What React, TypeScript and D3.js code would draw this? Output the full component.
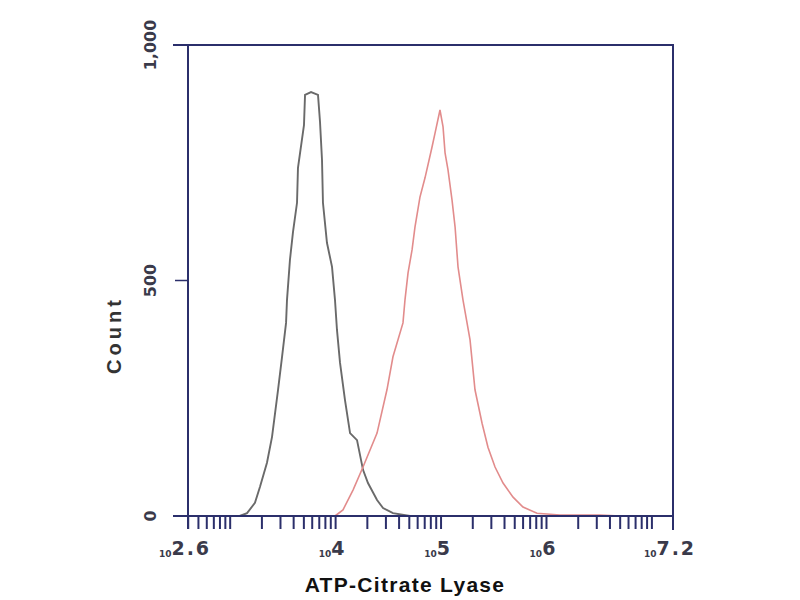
import React from "react";
import * as d3 from "d3";

// Log10 fluorescence channel (x) and event count (y) for each histogram
const isotypeLog = [3.09, 3.16, 3.235, 3.283, 3.349, 3.397, 3.454, 3.492, 3.53, 3.539, 3.567, 3.596, 3.634, 3.643, 3.7, 3.71, 3.767, 3.833, 3.852, 3.871, 3.88, 3.918, 3.966, 3.994, 4.013, 4.042, 4.089, 4.137, 4.203, 4.26, 4.307, 4.393, 4.45, 4.544, 4.706];
const isotypeCount = [0, 6, 28, 62, 113, 168, 268, 338, 410, 459, 544, 603, 665, 739, 830, 894, 900, 894, 837, 756, 665, 580, 529, 459, 395, 325, 246, 176, 161, 98, 70, 34, 17, 6, 0];

const aclyLog = [3.994, 4.07, 4.165, 4.26, 4.393, 4.487, 4.544, 4.639, 4.658, 4.687, 4.725, 4.753, 4.8, 4.848, 4.914, 4.943, 4.99, 5.019, 5.038, 5.066, 5.104, 5.133, 5.161, 5.208, 5.275, 5.322, 5.389, 5.445, 5.512, 5.588, 5.683, 5.777, 5.91, 6.128, 6.508, 6.7];
const aclyCount = [0, 13, 55, 104, 176, 268, 338, 410, 459, 516, 565, 614, 677, 718, 783, 813, 862, 826, 771, 735, 671, 614, 529, 459, 374, 268, 197, 146, 104, 70, 40, 19, 6, 2, 2, 0];

const yTicks = [0, 500, 1000];
const yTickLabels = ["0", "500", "1,000"];
const xLabelExps = [2.6, 4, 5, 6, 7.2];
const xLabelTexts = ["2.6", "4", "5", "6", "7.2"];
const xDomainExp = [2.6, 7.2];
const xTitle = "ATP-Citrate Lyase";
const yTitle = "Count";

const AXIS = "#2b2f6b";

export default function App() {
  const left = 188, right = 673, top = 45, bottom = 516;
  const x = d3.scaleLog().domain([10 ** xDomainExp[0], 10 ** xDomainExp[1]]).range([left, right]);
  const y = d3.scaleLinear().domain([0, 1000]).range([bottom, top]);

  const line = d3
    .line<[number, number]>()
    .x((d) => x(10 ** d[0]))
    .y((d) => y(d[1]))
    .curve(d3.curveLinear);

  const iso = isotypeLog.map((v, i) => [v, isotypeCount[i]] as [number, number]);
  const acly = aclyLog.map((v, i) => [v, aclyCount[i]] as [number, number]);

  const minorTicks = x.ticks().filter((t) => t >= x.domain()[0] && t <= x.domain()[1]);
  const endTicks = x.domain();

  return (
    <svg width={800} height={600} style={{ position: "absolute", left: 0, top: 0, background: "#fff" }}>
      <rect x={0} y={0} width={800} height={600} fill="#fff" />
      {/* curves */}
      <path d={line(iso) || ""} fill="none" stroke="#6a6a6a" strokeWidth={1.9} />
      <path d={line(acly) || ""} fill="none" stroke="#e28c8c" strokeWidth={1.6} />

      {/* frame */}
      <line x1={left} x2={left} y1={top} y2={bottom + 12} stroke={AXIS} strokeWidth={2} />
      <line x1={right} x2={right} y1={top} y2={bottom + 14} stroke={AXIS} strokeWidth={2} />
      <line x1={left - 15} x2={right + 1} y1={top} y2={top} stroke={AXIS} strokeWidth={2} />
      <line x1={left - 15} x2={right + 1} y1={bottom} y2={bottom} stroke={AXIS} strokeWidth={2} />

      {/* y ticks */}
      {yTicks.map((t, i) => (
        <g key={"y" + t}>
          <line x1={left - 13} x2={left} y1={y(t)} y2={y(t)} stroke={AXIS} strokeWidth={1.5} />
          <text
            transform={`translate(${156},${y(t)}) rotate(-90)`}
            textAnchor="middle"
            fontFamily="DejaVu Sans"
            fontWeight="bold"
            fontSize={16}
            fill="#3a3a4a"
          >
            {yTickLabels[i]}
          </text>
        </g>
      ))}

      {/* x ticks */}
      {minorTicks.map((t, i) => (
        <line key={"xt" + i} x1={x(t)} x2={x(t)} y1={bottom} y2={bottom + 13} stroke={AXIS} strokeWidth={2} />
      ))}
      {endTicks.map((t, i) => (
        <line key={"xe" + i} x1={x(t)} x2={x(t)} y1={bottom} y2={bottom + 13} stroke={AXIS} strokeWidth={2} />
      ))}

      {xLabelExps.map((e, i) => (
        <text
          key={"xl" + i}
          x={x(10 ** e) - 3}
          y={555}
          textAnchor="middle"
          fontFamily="DejaVu Sans"
          fill="#3a3a4a"
        >
          <tspan fontSize={9} fontWeight="bold" dy={2}>10</tspan>
          <tspan fontSize={19} fontWeight="bold" dy={-2} letterSpacing={2}>{xLabelTexts[i]}</tspan>
        </text>
      ))}

      {/* titles */}
      <text
        x={405}
        y={592}
        textAnchor="middle"
        fontFamily="Liberation Sans, Arial, sans-serif"
        fontWeight="bold"
        fontSize={21}
        letterSpacing={1.3}
        fill="#111"
      >
        {xTitle}
      </text>
      <text
        transform={`translate(${121},${335}) rotate(-90)`}
        textAnchor="middle"
        fontFamily="Liberation Sans, Arial, sans-serif"
        fontWeight="bold"
        fontSize={20}
        letterSpacing={4}
        fill="#333"
      >
        {yTitle}
      </text>
    </svg>
  );
}
